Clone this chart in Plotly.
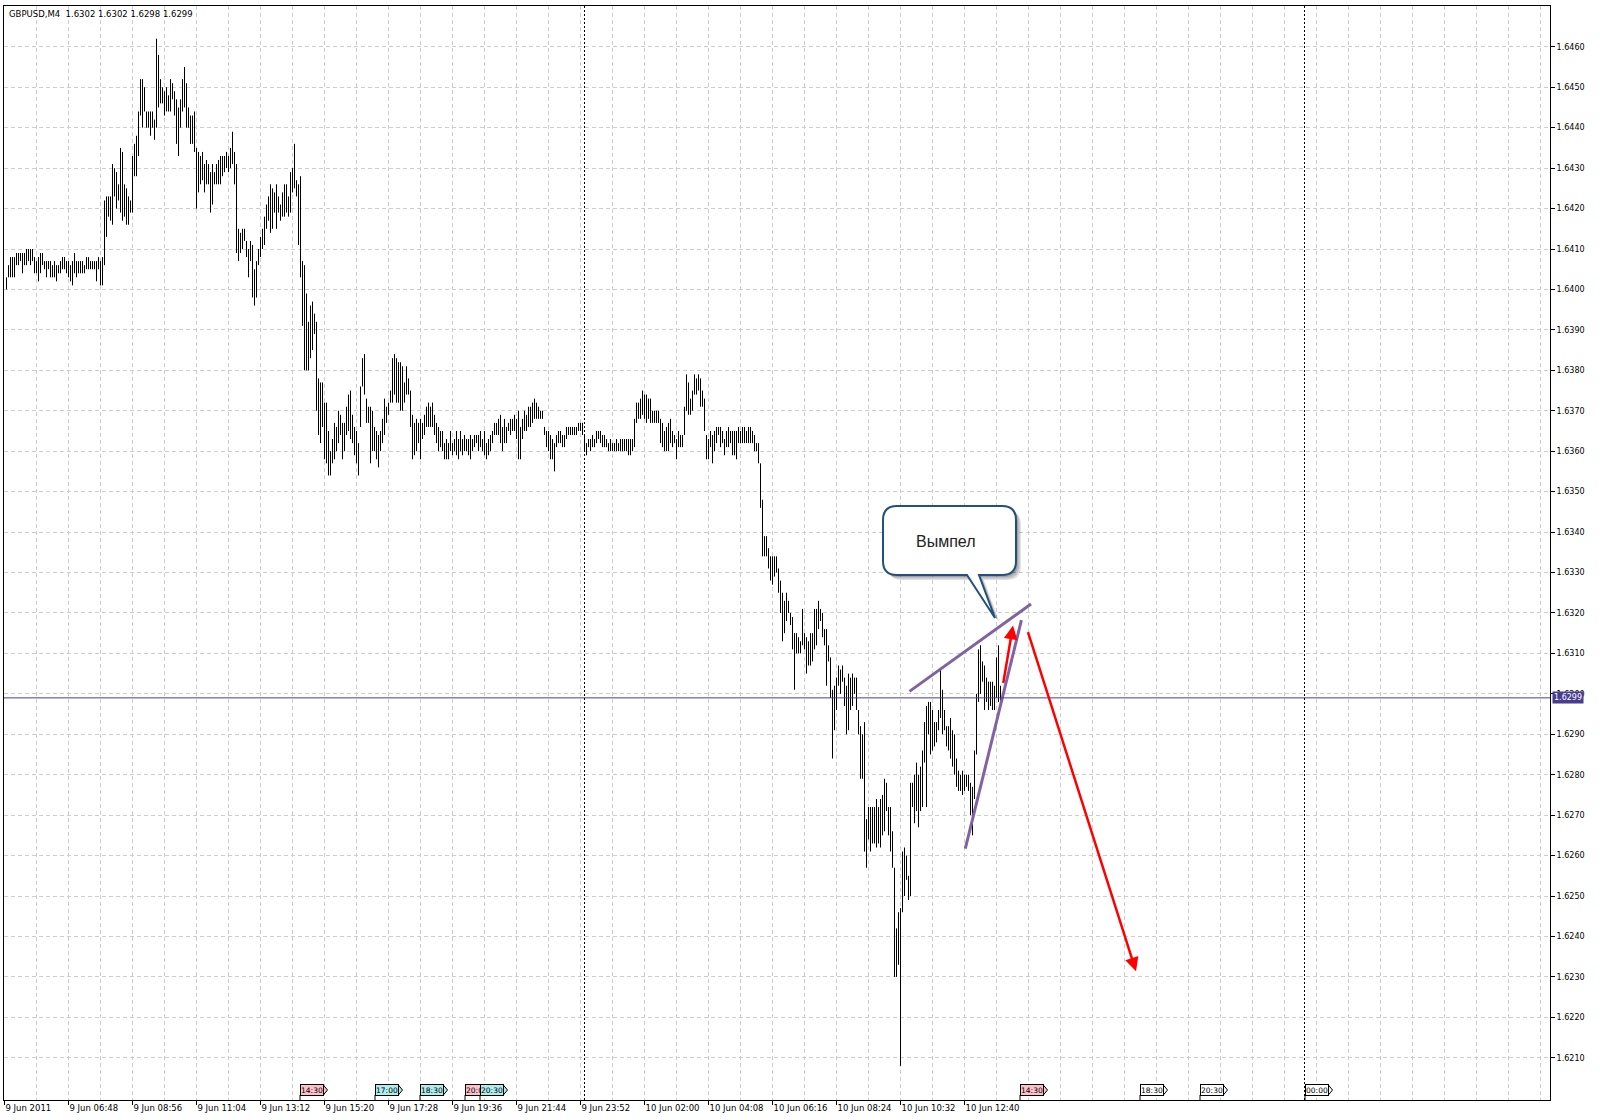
import pandas as pd
import plotly.graph_objects as go

# ---------------- data ----------------
SYMBOL = "GBPUSD,M4"
LAST_OHLC = [1.6302, 1.6302, 1.6298, 1.6299]
FIRST_BAR_TIME = "2011-06-09 04:44"
BAR_MINUTES = 4

HIGHS = [
    1.6403,1.6406,1.6408,1.6408,1.6408,1.6409,1.6409,1.6409,1.6409,1.6409,
    1.6410,1.6410,1.6410,1.6410,1.6408,1.6407,1.6408,1.6409,1.6409,1.6407,
    1.6407,1.6407,1.6407,1.6406,1.6407,1.6406,1.6406,1.6407,1.6408,1.6408,
    1.6407,1.6407,1.6406,1.6407,1.6409,1.6407,1.6407,1.6407,1.6407,1.6406,
    1.6408,1.6408,1.6407,1.6407,1.6407,1.6407,1.6408,1.6407,1.6408,1.6422,
    1.6423,1.6423,1.6423,1.6431,1.6430,1.6429,1.6426,1.6435,1.6434,1.6426,
    1.6425,1.6423,1.6422,1.6433,1.6436,1.6438,1.6444,1.6452,1.6452,1.6450,
    1.6444,1.6444,1.6444,1.6444,1.6442,1.6462,1.6458,1.6452,1.6450,1.6449,
    1.6450,1.6448,1.6452,1.6451,1.6449,1.6447,1.6445,1.6447,1.6452,1.6455,
    1.6451,1.6445,1.6443,1.6443,1.6444,1.6435,1.6434,1.6433,1.6434,1.6431,
    1.6432,1.6431,1.6429,1.6431,1.6429,1.6431,1.6432,1.6433,1.6433,1.6433,
    1.6434,1.6433,1.6435,1.6439,1.6434,1.6431,1.6415,1.6414,1.6415,1.6415,
    1.6412,1.6410,1.6412,1.6411,1.6405,1.6407,1.6410,1.6413,1.6415,1.6418,
    1.6421,1.6423,1.6426,1.6425,1.6424,1.6426,1.6423,1.6421,1.6424,1.6426,
    1.6426,1.6423,1.6429,1.6430,1.6436,1.6427,1.6426,1.6428,1.6407,1.6406,
    1.6399,1.6392,1.6396,1.6397,1.6394,1.6392,1.6378,1.6377,1.6377,1.6372,
    1.6372,1.6365,1.6360,1.6363,1.6367,1.6366,1.6370,1.6369,1.6367,1.6367,
    1.6371,1.6374,1.6375,1.6369,1.6366,1.6365,1.6362,1.6376,1.6383,1.6384,
    1.6373,1.6371,1.6371,1.6370,1.6366,1.6365,1.6364,1.6365,1.6368,1.6373,
    1.6371,1.6372,1.6375,1.6383,1.6384,1.6383,1.6382,1.6382,1.6381,1.6377,
    1.6381,1.6378,1.6375,1.6369,1.6367,1.6368,1.6367,1.6368,1.6367,1.6369,
    1.6371,1.6372,1.6371,1.6372,1.6369,1.6367,1.6366,1.6365,1.6365,1.6362,
    1.6363,1.6362,1.6365,1.6362,1.6363,1.6365,1.6363,1.6365,1.6363,1.6364,
    1.6363,1.6363,1.6364,1.6363,1.6364,1.6364,1.6364,1.6365,1.6363,1.6365,
    1.6362,1.6363,1.6364,1.6365,1.6367,1.6367,1.6368,1.6369,1.6366,1.6368,
    1.6366,1.6367,1.6368,1.6368,1.6369,1.6368,1.6370,1.6366,1.6368,1.6370,
    1.6369,1.6371,1.6371,1.6372,1.6373,1.6372,1.6371,1.6370,1.6370,1.6366,
    1.6365,1.6365,1.6364,1.6363,1.6362,1.6364,1.6365,1.6365,1.6364,1.6364,
    1.6366,1.6366,1.6366,1.6366,1.6366,1.6366,1.6367,1.6367,1.6367,1.6364,
    1.6362,1.6363,1.6363,1.6364,1.6363,1.6365,1.6365,1.6365,1.6364,1.6364,
    1.6363,1.6362,1.6363,1.6362,1.6362,1.6363,1.6362,1.6363,1.6363,1.6363,
    1.6363,1.6363,1.6363,1.6363,1.6368,1.6372,1.6372,1.6373,1.6375,1.6374,
    1.6374,1.6373,1.6373,1.6370,1.6370,1.6370,1.6370,1.6368,1.6367,1.6365,
    1.6366,1.6367,1.6368,1.6365,1.6364,1.6363,1.6365,1.6364,1.6364,1.6371,
    1.6379,1.6377,1.6373,1.6375,1.6379,1.6378,1.6379,1.6378,1.6375,1.6373,
    1.6364,1.6363,1.6365,1.6364,1.6365,1.6366,1.6366,1.6366,1.6365,1.6363,
    1.6365,1.6366,1.6365,1.6365,1.6365,1.6365,1.6366,1.6365,1.6366,1.6366,
    1.6365,1.6366,1.6366,1.6365,1.6364,1.6362,1.6362,1.6357,1.6348,1.6339,
    1.6339,1.6336,1.6334,1.6334,1.6334,1.6334,1.6331,1.6328,1.6325,1.6323,
    1.6325,1.6323,1.6320,1.6319,1.6315,1.6315,1.6314,1.6313,1.6321,1.6315,
    1.6314,1.6313,1.6315,1.6315,1.6321,1.6321,1.6323,1.6321,1.6320,1.6316,
    1.6316,1.6312,1.6309,1.6301,1.6302,1.6304,1.6307,1.6306,1.6307,1.6304,
    1.6302,1.6305,1.6304,1.6305,1.6304,1.6304,1.6296,1.6292,1.6290,1.6293,
    1.6269,1.6272,1.6272,1.6272,1.6272,1.6274,1.6272,1.6274,1.6275,1.6279,
    1.6278,1.6272,1.6272,1.6266,1.6257,1.6242,1.6246,1.6247,1.6261,1.6262,
    1.6260,1.6255,1.6278,1.6278,1.6280,1.6283,1.6280,1.6282,1.6286,1.6293,
    1.6297,1.6298,1.6298,1.6296,1.6293,1.6293,1.6296,1.6306,1.6301,1.6296,
    1.6292,1.6292,1.6294,1.6291,1.6290,1.6284,1.6281,1.6280,1.6281,1.6280,
    1.6280,1.6280,1.6278,1.6277,1.6286,1.6300,1.6311,1.6312,1.6308,1.6307,
    1.6304,1.6303,1.6303,1.6303,1.6302,1.6309,1.6312,1.6302,
]

LOWS = [
    1.6400,1.6403,1.6403,1.6403,1.6403,1.6406,1.6406,1.6407,1.6404,1.6406,
    1.6406,1.6407,1.6406,1.6407,1.6404,1.6404,1.6402,1.6404,1.6406,1.6405,
    1.6403,1.6405,1.6403,1.6403,1.6403,1.6402,1.6404,1.6404,1.6405,1.6405,
    1.6404,1.6403,1.6402,1.6401,1.6404,1.6403,1.6404,1.6404,1.6404,1.6404,
    1.6405,1.6405,1.6405,1.6405,1.6405,1.6402,1.6405,1.6401,1.6401,1.6406,
    1.6413,1.6418,1.6417,1.6416,1.6423,1.6420,1.6422,1.6419,1.6417,1.6418,
    1.6416,1.6416,1.6419,1.6419,1.6428,1.6428,1.6433,1.6443,1.6440,1.6444,
    1.6440,1.6440,1.6438,1.6440,1.6437,1.6440,1.6445,1.6446,1.6446,1.6443,
    1.6444,1.6444,1.6444,1.6447,1.6443,1.6436,1.6433,1.6440,1.6444,1.6445,
    1.6440,1.6440,1.6436,1.6436,1.6434,1.6420,1.6424,1.6426,1.6427,1.6424,
    1.6426,1.6426,1.6419,1.6421,1.6426,1.6426,1.6426,1.6426,1.6428,1.6429,
    1.6430,1.6429,1.6430,1.6431,1.6426,1.6409,1.6407,1.6409,1.6410,1.6412,
    1.6408,1.6403,1.6407,1.6398,1.6396,1.6398,1.6406,1.6408,1.6410,1.6411,
    1.6415,1.6417,1.6414,1.6415,1.6419,1.6415,1.6419,1.6417,1.6418,1.6418,
    1.6419,1.6418,1.6419,1.6424,1.6425,1.6423,1.6411,1.6403,1.6391,1.6380,
    1.6380,1.6380,1.6383,1.6385,1.6389,1.6370,1.6364,1.6362,1.6366,1.6358,
    1.6357,1.6354,1.6354,1.6357,1.6358,1.6360,1.6362,1.6364,1.6358,1.6360,
    1.6364,1.6365,1.6363,1.6362,1.6359,1.6357,1.6354,1.6366,1.6376,1.6374,
    1.6367,1.6367,1.6357,1.6360,1.6360,1.6358,1.6356,1.6360,1.6362,1.6364,
    1.6367,1.6369,1.6372,1.6372,1.6374,1.6372,1.6372,1.6370,1.6370,1.6372,
    1.6374,1.6374,1.6366,1.6358,1.6359,1.6360,1.6362,1.6358,1.6363,1.6364,
    1.6366,1.6366,1.6366,1.6366,1.6364,1.6362,1.6360,1.6361,1.6360,1.6358,
    1.6358,1.6358,1.6360,1.6359,1.6360,1.6359,1.6358,1.6360,1.6359,1.6360,
    1.6360,1.6359,1.6358,1.6360,1.6361,1.6362,1.6360,1.6361,1.6360,1.6359,
    1.6358,1.6359,1.6360,1.6362,1.6364,1.6364,1.6364,1.6362,1.6360,1.6362,
    1.6362,1.6365,1.6364,1.6365,1.6365,1.6363,1.6358,1.6358,1.6363,1.6365,
    1.6365,1.6366,1.6366,1.6367,1.6368,1.6368,1.6368,1.6368,1.6368,1.6364,
    1.6361,1.6360,1.6358,1.6358,1.6355,1.6361,1.6362,1.6362,1.6361,1.6361,
    1.6363,1.6364,1.6364,1.6364,1.6364,1.6364,1.6365,1.6365,1.6364,1.6360,
    1.6359,1.6361,1.6360,1.6361,1.6361,1.6362,1.6363,1.6362,1.6361,1.6361,
    1.6361,1.6360,1.6360,1.6360,1.6360,1.6360,1.6360,1.6360,1.6360,1.6360,
    1.6360,1.6359,1.6359,1.6360,1.6361,1.6367,1.6368,1.6368,1.6369,1.6368,
    1.6367,1.6368,1.6367,1.6367,1.6367,1.6367,1.6367,1.6362,1.6361,1.6360,
    1.6360,1.6360,1.6362,1.6361,1.6362,1.6358,1.6361,1.6361,1.6361,1.6364,
    1.6370,1.6369,1.6369,1.6370,1.6374,1.6374,1.6375,1.6371,1.6371,1.6365,
    1.6358,1.6358,1.6361,1.6357,1.6360,1.6362,1.6364,1.6361,1.6362,1.6359,
    1.6361,1.6361,1.6362,1.6359,1.6359,1.6358,1.6362,1.6362,1.6362,1.6362,
    1.6362,1.6362,1.6362,1.6362,1.6360,1.6360,1.6357,1.6346,1.6334,1.6334,
    1.6334,1.6331,1.6328,1.6327,1.6329,1.6330,1.6325,1.6320,1.6313,1.6315,
    1.6318,1.6320,1.6317,1.6311,1.6301,1.6310,1.6310,1.6310,1.6312,1.6311,
    1.6305,1.6307,1.6307,1.6308,1.6311,1.6312,1.6316,1.6318,1.6314,1.6312,
    1.6302,1.6308,1.6299,1.6284,1.6291,1.6296,1.6302,1.6300,1.6303,1.6297,
    1.6290,1.6291,1.6296,1.6297,1.6300,1.6296,1.6290,1.6279,1.6279,1.6261,
    1.6257,1.6264,1.6261,1.6263,1.6263,1.6262,1.6263,1.6262,1.6265,1.6266,
    1.6271,1.6265,1.6261,1.6257,1.6230,1.6230,1.6233,1.6208,1.6246,1.6250,
    1.6254,1.6249,1.6250,1.6272,1.6268,1.6271,1.6267,1.6271,1.6272,1.6283,
    1.6272,1.6290,1.6285,1.6286,1.6287,1.6288,1.6291,1.6294,1.6290,1.6291,
    1.6287,1.6286,1.6284,1.6282,1.6280,1.6277,1.6276,1.6276,1.6275,1.6276,
    1.6277,1.6276,1.6270,1.6265,1.6274,1.6285,1.6298,1.6300,1.6303,1.6296,
    1.6298,1.6296,1.6297,1.6296,1.6296,1.6299,1.6298,1.6298,
]

X_TICK_TIMES = [
    "2011-06-09 04:40", "2011-06-09 06:48", "2011-06-09 08:56", "2011-06-09 11:04",
    "2011-06-09 13:12", "2011-06-09 15:20", "2011-06-09 17:28", "2011-06-09 19:36",
    "2011-06-09 21:44", "2011-06-09 23:52", "2011-06-10 02:00", "2011-06-10 04:08",
    "2011-06-10 06:16", "2011-06-10 08:24", "2011-06-10 10:32", "2011-06-10 12:40",
]
X_TICK_TEXT = [
    "9 Jun 2011", "9 Jun 06:48", "9 Jun 08:56", "9 Jun 11:04", "9 Jun 13:12",
    "9 Jun 15:20", "9 Jun 17:28", "9 Jun 19:36", "9 Jun 21:44", "9 Jun 23:52",
    "10 Jun 02:00", "10 Jun 04:08", "10 Jun 06:16", "10 Jun 08:24",
    "10 Jun 10:32", "10 Jun 12:40",
]
Y_TICKS = [1.6210, 1.6220, 1.6230, 1.6240, 1.6250, 1.6260, 1.6270, 1.6280,
           1.6290, 1.6300, 1.6310, 1.6320, 1.6330, 1.6340, 1.6350, 1.6360,
           1.6370, 1.6380, 1.6390, 1.6400, 1.6410, 1.6420, 1.6430, 1.6440,
           1.6450, 1.6460]
BID_PRICE = 1.6299
DAY_SEPARATORS = ["2011-06-10 00:00", "2011-06-11 00:00"]

EVENT_TIMES = ["2011-06-09 14:30", "2011-06-09 17:00", "2011-06-09 18:30",
               "2011-06-09 20:00", "2011-06-09 20:30", "2011-06-10 14:30",
               "2011-06-10 18:30", "2011-06-10 20:30", "2011-06-11 00:00"]
EVENT_LABELS = ["14:30", "17:00", "18:30", "20:00", "20:30", "14:30",
                "18:30", "20:30", "00:00"]
EVENT_KIND = ["high", "medium", "medium", "high", "medium", "high",
              "none", "none", "none"]

PENNANT_UPPER_T = ["2011-06-10 10:50", "2011-06-10 14:53"]
PENNANT_UPPER_P = [1.63006, 1.63222]
PENNANT_LOWER_T = ["2011-06-10 12:41:36", "2011-06-10 14:33:48"]
PENNANT_LOWER_P = [1.62617, 1.63182]

ARROW_UP_T = ["2011-06-10 13:57", "2011-06-10 14:17"]
ARROW_UP_P = [1.63023, 1.63169]
ARROW_DOWN_T = ["2011-06-10 14:46", "2011-06-10 18:23"]
ARROW_DOWN_P = [1.63156, 1.62314]

CALLOUT_TEXT = "Вымпел"

# ---------------- styles / geometry ----------------
W, H = 1600, 1120
ML, MR, MT, MB = 4, 50, 6, 20
PLOT_W = W - ML - MR
PLOT_H = H - MT - MB
X_RANGE = ["2011-06-09 04:39", "2011-06-11 08:11"]
Y_RANGE = [1.619956, 1.647009]
GRID = "#cdcdcd"
GRID_DASH = "4px,3px"
KIND_COLOR = {"high": "#ffc0cb", "medium": "#afeeee", "none": "#ffffff"}
FONT = "DejaVu Sans"


def px_x(x):
    return (x - ML) / PLOT_W


def px_y(y):
    return (MT + PLOT_H - y) / PLOT_H


fig = go.Figure()

# bars (high-low lines)
times = pd.date_range(FIRST_BAR_TIME, periods=len(HIGHS), freq=f"{BAR_MINUTES}min")
xs, ys = [], []
for t, hi, lo in zip(times, HIGHS, LOWS):
    xs += [t, t, None]
    ys += [lo, hi, None]
fig.add_trace(go.Scatter(x=xs, y=ys, mode="lines", line=dict(color="black", width=1),
                         hoverinfo="skip", showlegend=False, name=SYMBOL))

# pennant lines
for tt, pp in [(PENNANT_UPPER_T, PENNANT_UPPER_P), (PENNANT_LOWER_T, PENNANT_LOWER_P)]:
    fig.add_trace(go.Scatter(x=tt, y=pp, mode="lines",
                             line=dict(color="#8064a2", width=3),
                             hoverinfo="skip", showlegend=False))

# bid line
fig.add_shape(type="line", xref="paper", x0=0, x1=1, yref="y", y0=BID_PRICE, y1=BID_PRICE,
              line=dict(color="#483d8b", width=1), layer="above")
fig.add_annotation(xref="paper", x=1, xanchor="left", xshift=2, yref="y", y=BID_PRICE,
                   text=f"{BID_PRICE:.4f}", showarrow=False, bgcolor="#483d8b",
                   font=dict(family=FONT, size=8, color="white"), borderpad=1)

# day separators
for s in DAY_SEPARATORS:
    fig.add_shape(type="line", xref="x", x0=s, x1=s, yref="paper", y0=0, y1=1,
                  line=dict(color="black", width=1, dash="2px,2px"), layer="above")

# event tags on the time axis: stem + tip as shapes, box with label as annotation
for t, lab, kind in zip(EVENT_TIMES, EVENT_LABELS, EVENT_KIND):
    col = KIND_COLOR[kind]
    fig.add_shape(type="path", xref="x", yref="paper", xsizemode="pixel", ysizemode="pixel",
                  xanchor=t, yanchor=0, path="M0.5,0 L0.5,5",
                  line=dict(color="black", width=1), layer="above")
    fig.add_shape(type="path", xref="x", yref="paper", xsizemode="pixel", ysizemode="pixel",
                  xanchor=t, yanchor=0, path="M23,4 L28,10 L23,16",
                  fillcolor=col, line=dict(color="black", width=1), layer="above")
    fig.add_annotation(xref="x", x=t, yref="paper", y=0, xanchor="left", yanchor="bottom",
                       xshift=0, yshift=4, text=lab, showarrow=False,
                       width=22, height=10, borderpad=0, borderwidth=1,
                       bordercolor="black", bgcolor=col, align="center",
                       font=dict(family=FONT, size=7.5, color="black"))

# red arrows
for tt, pp in [(ARROW_UP_T, ARROW_UP_P), (ARROW_DOWN_T, ARROW_DOWN_P)]:
    fig.add_annotation(x=tt[1], y=pp[1], ax=tt[0], ay=pp[0], xref="x", yref="y",
                       axref="x", ayref="y", text="", showarrow=True, arrowhead=2,
                       arrowsize=1.1, arrowwidth=2.5, arrowcolor="#ff0000", standoff=0)


# callout
def callout_path(dx=0.0, dy=0.0):
    L, R, T, B, r = 883 + dx, 1016 + dx, 506 + dy, 575 + dy, 14
    t1, tip, t2 = (979 + dx, B), (995 + dx, 618 + dy), (967 + dx, B)
    P = lambda x, y: f"{px_x(x):.5f},{px_y(y):.5f}"
    return (f"M {P(L + r, T)} L {P(R - r, T)} Q {P(R, T)} {P(R, T + r)} "
            f"L {P(R, B - r)} Q {P(R, B)} {P(R - r, B)} L {P(*t1)} L {P(*tip)} L {P(*t2)} "
            f"L {P(L + r, B)} Q {P(L, B)} {P(L, B - r)} L {P(L, T + r)} Q {P(L, T)} {P(L + r, T)} Z")


for off, alpha in [(5, 0.12), (3.5, 0.15), (2, 0.15)]:
    fig.add_shape(type="path", xref="paper", yref="paper", path=callout_path(off, off),
                  fillcolor=f"rgba(0,0,0,{alpha})", line=dict(width=0), layer="above")
fig.add_shape(type="path", xref="paper", yref="paper", path=callout_path(),
              fillcolor="white", line=dict(color="#23507f", width=2), layer="above")
fig.add_annotation(xref="paper", yref="paper", x=px_x(946), y=px_y(541), text=CALLOUT_TEXT,
                   showarrow=False, font=dict(family="Liberation Sans", size=16, color="#222222"))

# symbol / OHLC caption
o, h, l, c = LAST_OHLC
fig.add_annotation(xref="paper", yref="paper", x=0, y=1, xanchor="left", yanchor="top",
                   xshift=3, yshift=-1, showarrow=False,
                   text=f"{SYMBOL}  {o:.4f} {h:.4f} {l:.4f} {c:.4f}",
                   font=dict(family=FONT, size=8.5, color="black"))

fig.update_layout(
    width=W, height=H,
    margin=dict(l=ML, r=MR, t=MT, b=MB, pad=0),
    paper_bgcolor="white", plot_bgcolor="white",
    showlegend=False,
    font=dict(family=FONT, size=8.5, color="black"),
    xaxis=dict(
        type="date", range=X_RANGE, tickvals=X_TICK_TIMES, ticktext=X_TICK_TEXT,
        ticks="outside", ticklen=4, tickcolor="black", tickwidth=1,
        ticklabelposition="outside right",
        showline=True, linecolor="black", linewidth=1, mirror=True,
        showgrid=True, gridcolor=GRID, griddash=GRID_DASH, gridwidth=1,
        minor=dict(tick0="2011-06-09 04:40", dtick=64 * 60 * 1000, showgrid=True,
                   gridcolor=GRID, griddash=GRID_DASH, ticks=""),
        zeroline=False, tickfont=dict(family=FONT, size=8.5, color="black"),
    ),
    yaxis=dict(
        side="right", range=Y_RANGE, tickvals=Y_TICKS, tickformat=".4f",
        ticks="outside", ticklen=4, tickcolor="black", tickwidth=1,
        showline=True, linecolor="black", linewidth=1, mirror=True,
        showgrid=True, gridcolor=GRID, griddash=GRID_DASH, gridwidth=1,
        zeroline=False, tickfont=dict(family=FONT, size=8, color="black"),
    ),
)

fig.write_html("out.html", config={"displayModeBar": False},
               post_script="document.body.style.margin='0';document.body.style.overflow='hidden';")
